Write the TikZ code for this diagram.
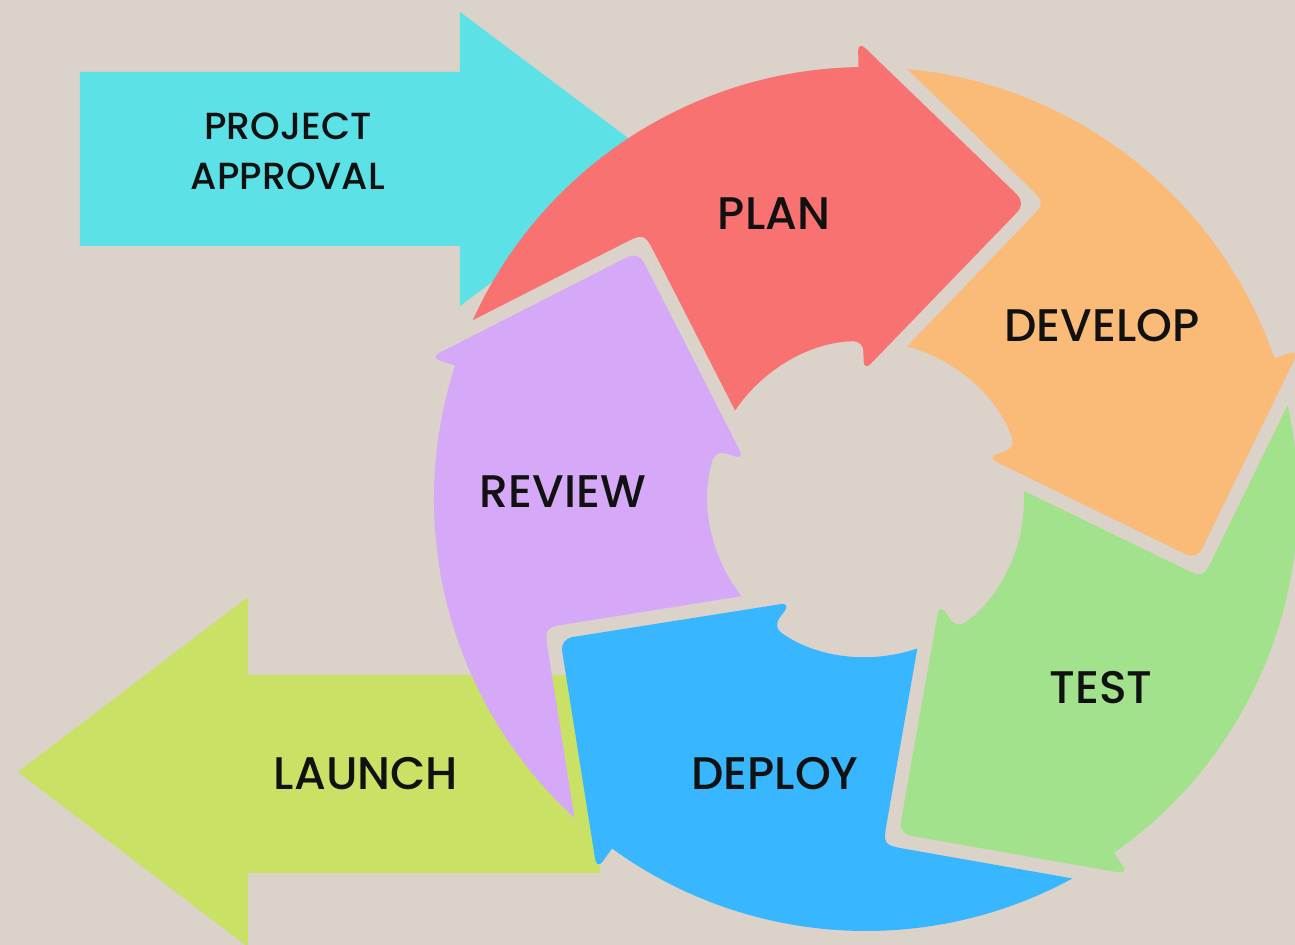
\documentclass[tikz,border=0pt]{standalone}
\usepackage{fontspec}
\usepackage{xcolor}
\usepackage{tikz}
\usetikzlibrary{calc}
\IfFontExistsTF{Poppins Medium}
  {\newfontfamily\stagefont{Poppins Medium}}
  {\newfontfamily\stagefont{Poppins}}
\definecolor{PageBeige}{HTML}{DBD2C9}
\definecolor{StartCyan}{HTML}{5CE1E6}
\definecolor{LaunchLime}{HTML}{C9E265}
\definecolor{PlanRed}{HTML}{F87272}
\definecolor{DevelopOrange}{HTML}{FABA78}
\definecolor{TestGreen}{HTML}{A3E28D}
\definecolor{DeployBlue}{HTML}{38B6FF}
\definecolor{ReviewViolet}{HTML}{D5A9F7}
\definecolor{TextDark}{HTML}{111111}

% one curved arrow of the ring: #1 head angle, #2 tail angle (head of the one before), #3 colour
% ring 158..432, barbs 128..458, the tail notch keeps a gap of 14 to the head before it
\newcommand{\stagearrow}[3]{%
  \pgfmathsetmacro{\aOut}{#2-6.45}
  \pgfmathsetmacro{\aIn}{#2-16.05}
  \pgfmathsetmacro{\aNotch}{#2-32.2}
  \pgfmathsetmacro{\aTip}{#1-29.4}
  \path (\aNotch:346.4) coordinate (nv) (\aIn:158) coordinate (ci)
        (\aOut:432) coordinate (co);
  \fill[#3] ($(nv)!5mm!(co)$) -- (co)
    arc[start angle=\aOut, end angle=#1, radius=432]
    [rounded corners=2mm] -- (#1:458)
    [rounded corners=2.4mm] -- (\aTip:336.3)
    [rounded corners=2mm] -- (#1:128) -- (#1:158)
    [sharp corners] arc[start angle=#1, end angle=\aIn, radius=158]
    -- ($(nv)!5mm!(ci)$) .. controls (nv) .. ($(nv)!5mm!(co)$) -- cycle;
}

\begin{document}
\begin{tikzpicture}[x=0.02cm, y=0.02cm,
    stagelabel/.style={text=TextDark, inner sep=0pt,
      font=\stagefont\fontsize{26}{31}\selectfont}]
  \fill[PageBeige] (-866,-446) rectangle (429,499);
  \useasboundingbox (-866,-446) rectangle (429,499);

  % way in and way out, both under the ring
  \fill[StartCyan] (-786,253) -- (-786,427) -- (-406,427) -- (-406,487)
    -- (-210,340) -- (-406,193) -- (-406,253) -- cycle;
  \fill[LaunchLime] (-848,-273) -- (-618,-98) -- (-618,-176) -- (-266,-176)
    -- (-266,-374) -- (-618,-374) -- (-618,-448) -- cycle;

  % the five stages, clockwise
  \stagearrow{91}{162}{PlanRed}
  \stagearrow{19}{91}{DevelopOrange}
  \stagearrow{-55}{19}{TestGreen}
  \stagearrow{-126}{-55}{DeployBlue}
  \stagearrow{-198}{-126}{ReviewViolet}

  \node[stagelabel] (plan) at (-92,285) {PLAN};
  \node[stagelabel] (develop) at (236,173) {DEVELOP};
  \node[stagelabel] (test) at (235,-189) {TEST};
  \node[stagelabel] (deploy) at (-91,-275) {DEPLOY};
  \node[stagelabel] (review) at (-303,7) {REVIEW};
  \node[stagelabel] (launch) at (-500,-275) {LAUNCH};
  \node[stagelabel, align=center, font=\stagefont\fontsize{21.5}{28.5}\selectfont]
    (approval) at (-578,348) {PROJECT\\APPROVAL};
\end{tikzpicture}
\end{document}
